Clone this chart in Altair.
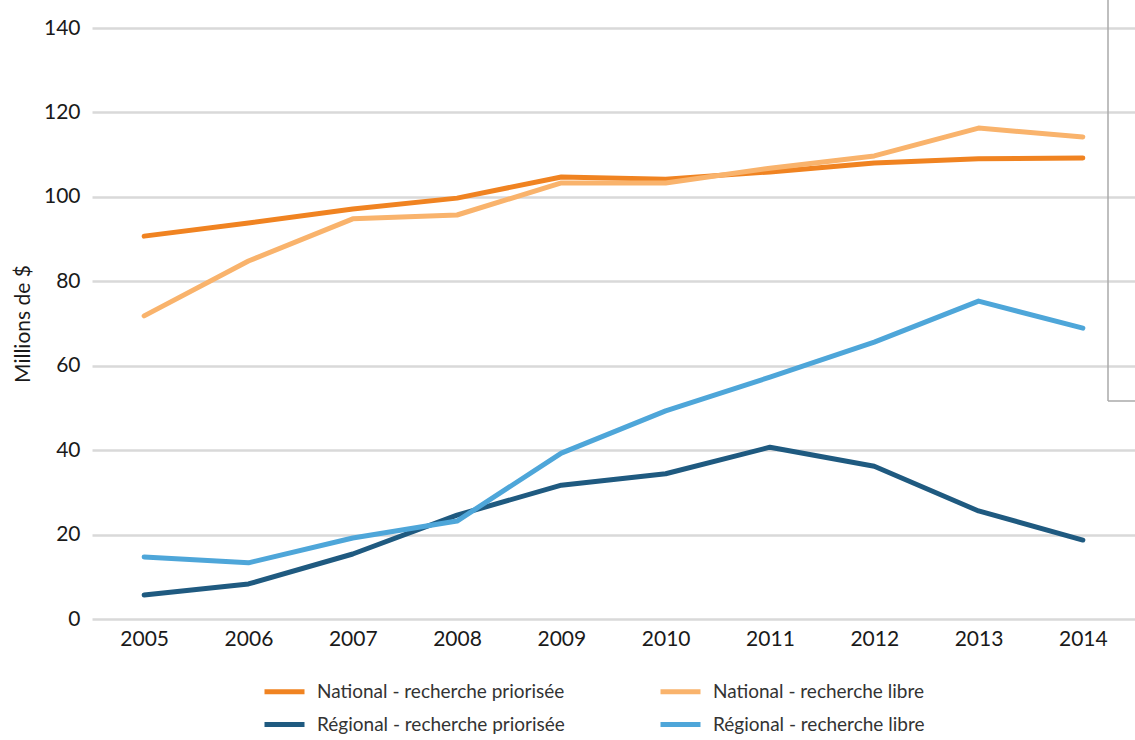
import altair as alt
import pandas as pd

years = [2005, 2006, 2007, 2008, 2009, 2010, 2011, 2012, 2013, 2014]
series_names = [
    "National - recherche priorisée",
    "National - recherche libre",
    "Régional - recherche priorisée",
    "Régional - recherche libre",
]
national_priorisee = [90.7, 93.8, 97.1, 99.7, 104.7, 104.2, 105.9, 108.0, 109.0, 109.2]
national_libre = [71.8, 84.8, 94.8, 95.7, 103.3, 103.3, 106.8, 109.7, 116.3, 114.2]
regional_priorisee = [5.7, 8.3, 15.4, 24.6, 31.7, 34.4, 40.7, 36.2, 25.6, 18.7]
regional_libre = [14.7, 13.3, 19.2, 23.2, 39.3, 49.3, 57.3, 65.6, 75.3, 68.9]
colors = ["#F08321", "#F9B36C", "#1F5A80", "#4EA6D9"]
y_ticks = [0, 20, 40, 60, 80, 100, 120, 140]

rows = []
for name, vals in zip(series_names, [national_priorisee, national_libre, regional_priorisee, regional_libre]):
    for yr, v in zip(years, vals):
        rows.append({"Année": str(yr), "Série": name, "Valeur": v})
df = pd.DataFrame(rows)

W, H = 1043, 591

lines = alt.Chart(df).mark_line(strokeWidth=5, strokeCap="round", strokeJoin="round").encode(
    x=alt.X("Année:O", title=None,
            axis=alt.Axis(labelAngle=0, labelPadding=9, ticks=False, domain=False,
                          labelFontSize=21, labelColor="#1A1A1A", labelFont="Lato", grid=False)),
    y=alt.Y("Valeur:Q", title="Millions de $",
            scale=alt.Scale(domain=[0, 140], nice=False),
            axis=alt.Axis(values=y_ticks, ticks=False, domain=False, labelPadding=12,
                          labelFontSize=21, labelColor="#1A1A1A", labelFont="Lato",
                          titleFontSize=21, titleFont="Lato", titleColor="#1A1A1A",
                          titleFontWeight="normal", titlePadding=10,
                          gridColor="#D9D9D9", gridWidth=2.5)),
    color=alt.Color("Série:N", sort=series_names,
                    scale=alt.Scale(domain=series_names, range=colors),
                    legend=alt.Legend(title=None, orient="none", legendX=170, legendY=641,
                                      columns=2, symbolType="stroke", symbolSize=1600,
                                      symbolStrokeWidth=5, labelFontSize=19, labelFont="Lato",
                                      labelColor="#333333", columnPadding=85, rowPadding=0,
                                      labelOffset=10, padding=0, labelLimit=0,
                                      direction="horizontal")),
    detail="Série:N",
)

box = alt.Chart(pd.DataFrame({"a": [0]})).mark_rule(color="#AAAAAA", strokeWidth=1.5).encode(
    x=alt.value(1016), y=alt.value(-28), y2=alt.value(373)
)
box2 = alt.Chart(pd.DataFrame({"a": [0]})).mark_rule(color="#AAAAAA", strokeWidth=1.5).encode(
    x=alt.value(1016), x2=alt.value(1043), y=alt.value(373)
)

chart = alt.layer(lines, box, box2).properties(
    width=W, height=H,
    autosize=alt.AutoSizeParams(type="none"),
    padding={"left": 92, "top": 28, "right": 0, "bottom": 121},
).configure(background="white").configure_view(stroke=None, strokeWidth=0)

chart.save("out.html", embed_options={"renderer": "svg", "actions": False})
